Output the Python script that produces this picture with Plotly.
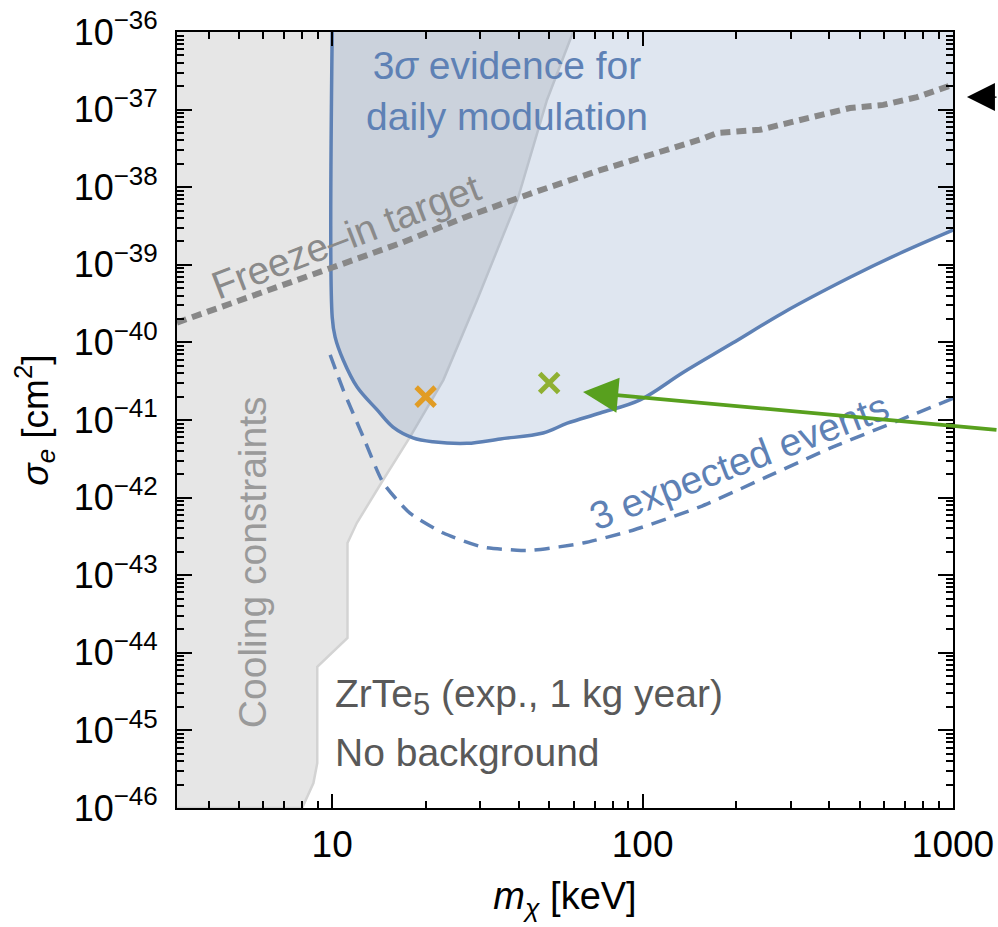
import plotly.graph_objects as go

# ---------------- data ----------------
cooling_mass = [59.7, 49.2, 39.5, 29.3, 22.8, 17.8, 14.6, 12.0, 11.2, 11.2, 8.95, 8.95, 8.7, 8.0]
cooling_sigma = [1e-36, 1.33e-37, 6.84e-39, 3.52e-40, 3.27e-41, 6.0e-42, 1.7e-42, 4.7e-43,
                 2.6e-43, 1.55e-44, 6.6e-45, 3.8e-46, 2.1e-46, 1e-46]

evidence_mass = [10, 10, 10.22, 10.85, 12.03, 13.96, 15.7, 18.2, 21.1, 27.2, 34.8, 47.8, 57.2,
                 73.0, 98.2, 135, 195, 283, 466, 675, 1000]
evidence_sigma = [1e-36, 2.12e-40, 1.17e-40, 5.93e-41, 2.66e-41, 1.35e-41, 8.1e-42, 5.9e-42,
                  5.25e-42, 5.0e-42, 5.7e-42, 6.8e-42, 9.1e-42, 1.23e-41, 1.82e-41, 4.1e-41,
                  9.8e-41, 2.4e-40, 6.9e-40, 1.41e-39, 2.8e-39]

expected_mass = [9.85, 10.85, 12.6, 14.6, 17.8, 22.8, 30.6, 39.4, 44.4, 64.3, 93.1, 153, 252,
                 411, 675, 1000]
expected_sigma = [6.9e-41, 2.45e-41, 6.0e-42, 1.55e-42, 6.3e-43, 3.5e-43, 2.3e-43, 2.1e-43,
                  2.1e-43, 2.6e-43, 3.8e-43, 7.6e-43, 1.86e-42, 4.5e-42, 1.0e-41, 1.9e-41]

freezein_mass = [3.16, 7.9, 10.07, 16.6, 27.2, 44.4, 73, 153, 174, 239, 298, 466, 596, 766, 1000]
freezein_sigma = [1.8e-40, 6.4e-40, 9.3e-40, 1.9e-39, 4.2e-39, 8.5e-39, 1.66e-38, 4.1e-38,
                  5.0e-38, 5.5e-38, 6.9e-38, 1.05e-37, 1.15e-37, 1.45e-37, 2.1e-37]

bench_orange = ([20], [2e-41])
bench_green = ([50], [3e-41])

y_exponents = list(range(-46, -35))
y_tickvals = [10.0 ** e for e in y_exponents]
y_ticktext = ["10<sup><span style='font-size:26px'>−%d</span></sup>" % (-e) for e in y_exponents]
y_minor = [k * 10.0 ** e for e in range(-46, -36) for k in range(2, 10)]

BLUE = "#5e81b5"
FONT = "Liberation Sans, Arial, Helvetica, sans-serif"
LABEL = 39

fig = go.Figure()

# cooling constraints region
fig.add_trace(go.Scatter(
    x=cooling_mass + [1, 1], y=cooling_sigma + [1e-46, 1e-36],
    mode="lines", fill="toself", fillcolor="#e6e6e6",
    line=dict(color="#d3d3d3", width=2.5), hoverinfo="skip", showlegend=False))

# 3 sigma evidence region
fig.add_trace(go.Scatter(
    x=evidence_mass + [1000, 10], y=evidence_sigma + [1e-36, 1e-36],
    mode="lines", fill="toself", fillcolor="rgba(94,129,181,0.2)",
    line=dict(width=0), hoverinfo="skip", showlegend=False))
fig.add_trace(go.Scatter(
    x=evidence_mass, y=evidence_sigma, mode="lines",
    line=dict(color=BLUE, width=3.5, shape="spline", smoothing=1.0), showlegend=False))

# 3 expected events
fig.add_trace(go.Scatter(
    x=expected_mass, y=expected_sigma, mode="lines",
    line=dict(color=BLUE, width=3.5, dash="15px,9px", shape="spline", smoothing=0.6),
    showlegend=False))

# freeze-in target
fig.add_trace(go.Scatter(
    x=freezein_mass, y=freezein_sigma, mode="lines",
    line=dict(color="#888888", width=6, dash="10px,6px"), showlegend=False))

# benchmark points
fig.add_trace(go.Scatter(
    x=bench_orange[0], y=bench_orange[1], mode="markers",
    marker=dict(symbol="x-thin", size=19, line=dict(width=5, color="#e19c24")),
    showlegend=False))
fig.add_trace(go.Scatter(
    x=bench_green[0], y=bench_green[1], mode="markers",
    marker=dict(symbol="x-thin", size=19, line=dict(width=5, color="#8fb032")),
    showlegend=False))

annotations = [
    dict(x=1.5636, y=-36.76, xref="x", yref="y", text="3<i>σ</i> evidence for<br>daily modulation",
         showarrow=False, font=dict(size=LABEL, color=BLUE, family=FONT)),
    dict(x=1.045, y=-38.64, xref="x", yref="y", text="Freeze–in target", textangle=-21,
         showarrow=False, font=dict(size=LABEL, color="#8a8a8a", family=FONT)),
    dict(x=0.742, y=-42.83, xref="x", yref="y", text="Cooling constraints", textangle=-90,
         showarrow=False, font=dict(size=LABEL, color="#9a9a9a", family=FONT)),
    dict(x=2.311, y=-41.54, xref="x", yref="y", text="3 expected events", textangle=-21,
         showarrow=False, font=dict(size=LABEL, color=BLUE, family=FONT)),
    dict(x=1.003, y=-44.57, xref="x", yref="y", xanchor="left",
         text="ZrTe<sub><span style='font-size:31px'>5</span></sub> (exp., 1 kg year)",
         showarrow=False, font=dict(size=LABEL, color="#595959", family=FONT)),
    dict(x=1.003, y=-45.28, xref="x", yref="y", xanchor="left", text="No background",
         showarrow=False, font=dict(size=LABEL, color="#595959", family=FONT)),
    # green arrow pointing to benchmark
    dict(x=1.808, y=-40.639, xref="x", yref="y", text="", showarrow=True,
         ax=415, ay=38, arrowhead=2, arrowwidth=3.8, arrowsize=1.85,
         arrowcolor="#58a01e", standoff=0),
    # black arrow at top right
    dict(x=1.018, y=0.9162, xref="paper", yref="paper", text="", showarrow=True,
         ax=120, ay=0, arrowhead=2, arrowwidth=1.3, arrowsize=4.3, arrowcolor="black", standoff=0),
]

axis_common = dict(
    showgrid=False, zeroline=False, showline=True, linecolor="black", linewidth=2,
    mirror="ticks", ticks="inside", tickcolor="black", tickwidth=1.5, automargin=False,
)

fig.update_layout(
    width=998, height=927,
    margin=dict(l=177, r=45, t=32, b=119),
    paper_bgcolor="white", plot_bgcolor="white",
    font=dict(family=FONT, color="black"),
    annotations=annotations,
    xaxis=dict(type="log", range=[0.5, 3], dtick=1, exponentformat="none", ticklen=14,
               minor=dict(ticks="inside", ticklen=7, tickcolor="black", tickwidth=1.5, dtick="D1"),
               ticklabelstandoff=3,
               tickfont=dict(size=37, color="black", family=FONT),
               title=dict(text="<i>m</i><sub><i>χ</i></sub> [keV]",
                          font=dict(size=38, color="black", family=FONT), standoff=18),
               **axis_common),
    yaxis=dict(type="log", range=[-46, -36], tickmode="array", tickvals=y_tickvals,
               ticktext=y_ticktext, ticklen=15,
               minor=dict(ticks="inside", ticklen=7, tickcolor="black", tickwidth=1.5,
                          tickmode="array", tickvals=y_minor),
               ticklabelstandoff=10,
               tickfont=dict(size=36, color="black", family=FONT),
               title=dict(text="<i>σ</i><sub><i>e</i></sub> [cm<sup>2</sup>]",
                          font=dict(size=37, color="black", family=FONT), standoff=14),
               **axis_common),
)

fig.write_html("out.html")
